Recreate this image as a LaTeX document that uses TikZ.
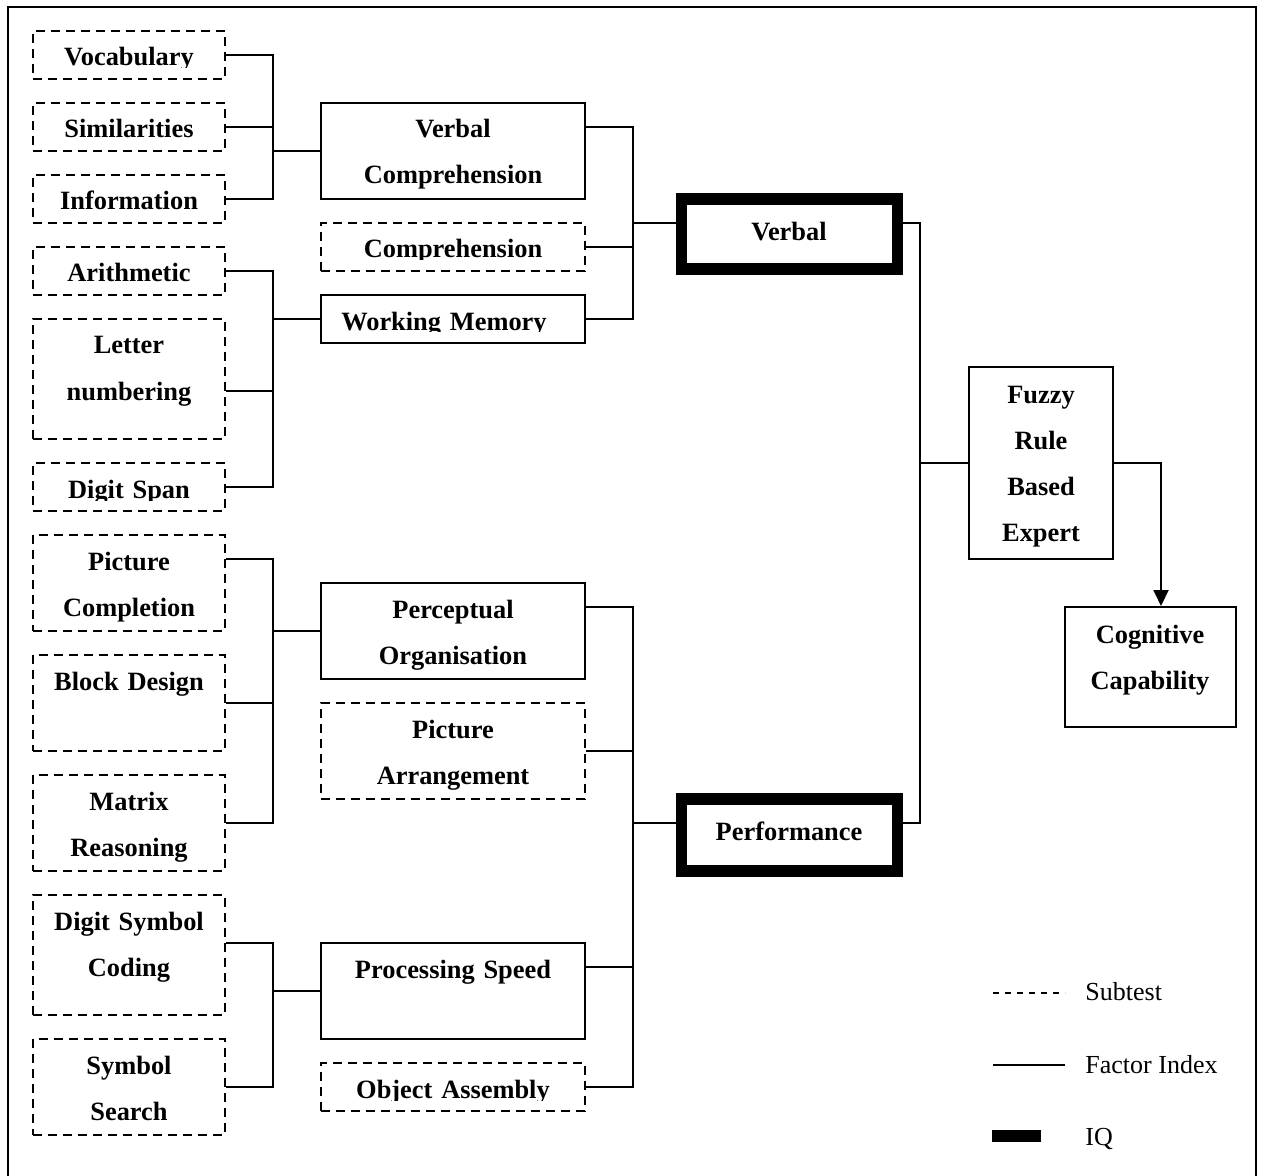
\documentclass[tikz,border=0pt]{standalone}
\usepackage{fontspec}
\setmainfont{Liberation Serif}
\usetikzlibrary{fit,arrows.meta}
\begin{document}
\begin{tikzpicture}[x=0.5pt,y=-0.5pt,
  conn/.style={line width=1pt},
  subbox/.style={draw, line width=1pt, dash pattern=on 4.5pt off 3pt, inner sep=0pt},
  facbox/.style={draw, line width=1pt, inner sep=0pt},
  iqbox/.style={draw, line width=5.75pt, inner sep=0pt},
  lbl/.style={font=\fontsize{13.2}{23}\selectfont\bfseries, align=center, inner sep=0pt, anchor=base},
  lw/.style={lbl, text width=96pt},
  mw/.style={lbl, text width=132pt},
  leg/.style={font=\fontsize{13}{16}\selectfont, inner sep=0pt, anchor=base west}]
\useasboundingbox (0,0) rectangle (1262,1176);
\draw[line width=1pt] (8,1176) -- (8,7) -- (1256,7) -- (1256,1176);

% ---- subtest boxes, left column
\node[subbox, fit={(33,31) (225,79)}] (voc) {};
\node[subbox, fit={(33,103) (225,151)}] (sim) {};
\node[subbox, fit={(33,175) (225,223)}] (inf) {};
\node[subbox, fit={(33,247) (225,295)}] (ari) {};
\node[subbox, fit={(33,319) (225,439)}] (lnum) {};
\node[subbox, fit={(33,463) (225,511)}] (dspan) {};
\node[subbox, fit={(33,535) (225,631)}] (pcomp) {};
\node[subbox, fit={(33,655) (225,751)}] (bdes) {};
\node[subbox, fit={(33,775) (225,871)}] (mreas) {};
\node[subbox, fit={(33,895) (225,1015)}] (dsym) {};
\node[subbox, fit={(33,1039) (225,1135)}] (ssearch) {};

\begin{scope}
  \clip (33,31) rectangle (225,68);
  \node[lw] (voc-t) at (129,66) {Vocabulary};
\end{scope}
\node[lw] (sim-t) at (129,138) {Similarities};
\node[lw] (inf-t) at (129,210) {Information};
\node[lw] (ari-t) at (129,282) {Arithmetic};
\node[lw] (lnum-t) at (129,354) {Letter\\numbering};
\begin{scope}
  \clip (33,463) rectangle (225,500);
  \node[lw] (dspan-t) at (129,498) {Digit Span};
\end{scope}
\node[lw] (pcomp-t) at (129,570) {Picture\\Completion};
\node[lw] (bdes-t) at (129,690) {Block Design};
\node[lw] (mreas-t) at (129,810) {Matrix\\Reasoning};
\node[lw] (dsym-t) at (129,930) {Digit Symbol\\Coding};
\node[lw] (ssearch-t) at (129,1074) {Symbol\\Search};

% ---- middle column
\node[facbox, fit={(321,103) (585,199)}] (vc) {};
\node[subbox, fit={(321,223) (585,271)}] (comp) {};
\node[facbox, fit={(321,295) (585,343)}] (wm) {};
\node[facbox, fit={(321,583) (585,679)}] (po) {};
\node[subbox, fit={(321,703) (585,799)}] (pa) {};
\node[facbox, fit={(321,943) (585,1039)}] (ps) {};
\node[subbox, fit={(321,1063) (585,1111)}] (oa) {};

\node[mw] (vc-t) at (453,138) {Verbal\\Comprehension};
\begin{scope}
  \clip (321,223) rectangle (585,260);
  \node[mw] (comp-t) at (453,258) {Comprehension};
\end{scope}
\begin{scope}
  \clip (321,295) rectangle (585,332);
  \node[mw] (wm-t) at (444,330) {Working Memory};
\end{scope}
\node[mw] (po-t) at (453,618) {Perceptual\\Organisation};
\node[mw] (pa-t) at (453,738) {Picture\\Arrangement};
\node[mw] (ps-t) at (453,978) {Processing Speed};
\begin{scope}
  \clip (321,1063) rectangle (585,1100);
  \node[mw] (oa-t) at (453,1098) {Object Assembly};
\end{scope}

% ---- IQ boxes
\node[iqbox, fit={(681.5,199) (897.5,269)}] (verbal) {};
\node[iqbox, fit={(681.5,799) (897.5,871)}] (perf) {};
\node[lbl] (verbal-t) at (789,241) {Verbal};
\node[lbl] (perf-t) at (789,840) {Performance};

% ---- fuzzy and result
\node[facbox, fit={(969,367) (1113,559)}] (fuzzy) {};
\node[lbl, text width=72pt] (fuzzy-t) at (1041,403) {Fuzzy\\Rule\\Based\\Expert};
\node[facbox, fit={(1065,607) (1236,727)}] (cog) {};
\begin{scope}
  \clip (1065,607) rectangle (1236,710);
  \node[lbl, text width=85pt] (cog-t) at (1150,643) {Cognitive\\Capability};
\end{scope}

% ---- connectors: subtests to factor indices
\coordinate (j1) at (273,151);
\draw[conn] (voc.east) -| (j1) |- (inf.east);
\draw[conn] (sim.east) -- (sim.east -| j1);
\draw[conn] (j1) -- (vc.west);

\coordinate (j2) at (273,319);
\draw[conn] (ari.east) -| (j2) |- (dspan.east);
\draw[conn] ([yshift=-6pt]lnum.east) -- ([yshift=-6pt]lnum.east -| j2);
\draw[conn] (j2) -- (wm.west);

\coordinate (j3) at (273,631);
\draw[conn] ([yshift=12pt]pcomp.east) -| (j3) |- (mreas.east);
\draw[conn] (bdes.east) -- (bdes.east -| j3);
\draw[conn] (j3) -- (po.west);

\coordinate (j4) at (273,991);
\draw[conn] ([yshift=6pt]dsym.east) -| (j4) |- (ssearch.east);
\draw[conn] (j4) -- (ps.west);

% ---- factor indices to IQ
\coordinate (j5) at (633,223);
\draw[conn] ([yshift=12pt]vc.east) -| (j5) |- (wm.east);
\draw[conn] (comp.east) -- (comp.east -| j5);
\draw[conn] (j5) -- ([yshift=5.5pt]verbal.west);

\coordinate (j6) at (633,823);
\draw[conn] ([yshift=12pt]po.east) -| (j6) |- (oa.east);
\draw[conn] (pa.east) -- (pa.east -| j6);
\draw[conn] ([yshift=12pt]ps.east) -- ([yshift=12pt]ps.east -| j6);
\draw[conn] (j6) -- ([yshift=6pt]perf.west);

% ---- IQ to fuzzy
\coordinate (j7) at (920,463);
\draw[conn] ([yshift=5.5pt]verbal.east) -| (j7) |- ([yshift=6pt]perf.east);
\draw[conn] (j7) -- (fuzzy.west);

% ---- fuzzy to result
\coordinate (a1) at (1161,463);
\draw[conn, -{Triangle[length=8pt,width=7.5pt]}] (fuzzy.east) -- (a1) -- (a1 |- cog.north);

% ---- legend
\coordinate (l1a) at (993,993);  \coordinate (l1b) at (1065,993);
\coordinate (l2a) at (993,1065); \coordinate (l2b) at (1065,1065);
\draw[line width=1pt, dash pattern=on 3pt off 3pt] (l1a) -- (l1b);
\draw[line width=1pt] (l2a) -- (l2b);
\fill (992,1130) rectangle (1041,1142);
\node[leg] (leg1) at (1085,1000) {Subtest};
\node[leg] (leg2) at (1085,1073) {Factor Index};
\node[leg] (leg3) at (1085,1145) {IQ};
\end{tikzpicture}
\end{document}
